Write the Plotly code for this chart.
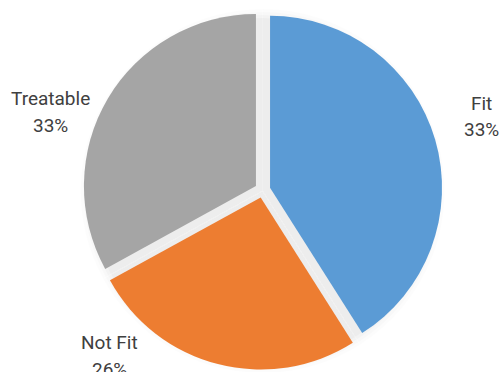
import plotly.graph_objects as go

# Data
categories = ["Fit", "Not Fit", "Treatable"]
values = [41, 26, 33]                 # slice sizes as drawn
pct_labels = ["33%", "26%", "33%"]    # labels as printed on the chart
colors = ["#5B9BD5", "#ED7D31", "#A5A5A5"]

W, H = 502, 400   # paper slightly taller than the window; the bottom is cropped like the reference
CX, CY = 262.6, 190.0
R = 172.0
PULL = 0.045


def dom(r_box, cx=CX, cy=CY):
    return dict(x=[(cx - r_box) / W, (cx + r_box) / W],
                y=[1 - (cy + r_box) / H, 1 - (cy - r_box) / H])


fig = go.Figure()

# soft shadow layers (unpulled, behind the main pie)
for rr, op in [(182, 0.01), (179, 0.014), (176, 0.018), (173, 0.022)]:
    fig.add_trace(go.Pie(
        labels=categories, values=values, sort=False, direction="clockwise",
        rotation=0, domain=dom(rr, CX, CY + 1),
        marker=dict(colors=["rgba(0,0,0,%g)" % op] * 3, line=dict(width=0)),
        textinfo="none", hoverinfo="skip", showlegend=False,
    ))

fig.add_trace(go.Pie(
    labels=categories, values=values, sort=False, direction="clockwise",
    rotation=0, pull=[PULL] * 3, domain=dom(R * (1 + PULL)),
    marker=dict(colors=colors, line=dict(width=0)),
    textinfo="none", hoverinfo="label+percent", showlegend=False,
))

label_pos = [(481, 103, 130), (109, 342, 369), (50.5, 98, 126)]
font = dict(family="Roboto, Arial, sans-serif", size=19, color="#404040")
annotations = []
for name, pct, (x, y1, y2) in zip(categories, pct_labels, label_pos):
    for txt, yy in [(name, y1), (pct, y2)]:
        annotations.append(dict(
            text=txt, x=x / W, y=1 - yy / H, xref="paper", yref="paper",
            xanchor="center", yanchor="middle", showarrow=False, font=font,
        ))

fig.update_layout(
    width=W, height=H, margin=dict(l=0, r=0, t=0, b=0),
    paper_bgcolor="white", plot_bgcolor="white",
    showlegend=False, annotations=annotations,
)

fig.write_html(
    "out.html",
    config={"displayModeBar": False},
    post_script="document.body.style.margin='0';document.body.style.overflow='hidden';",
)
